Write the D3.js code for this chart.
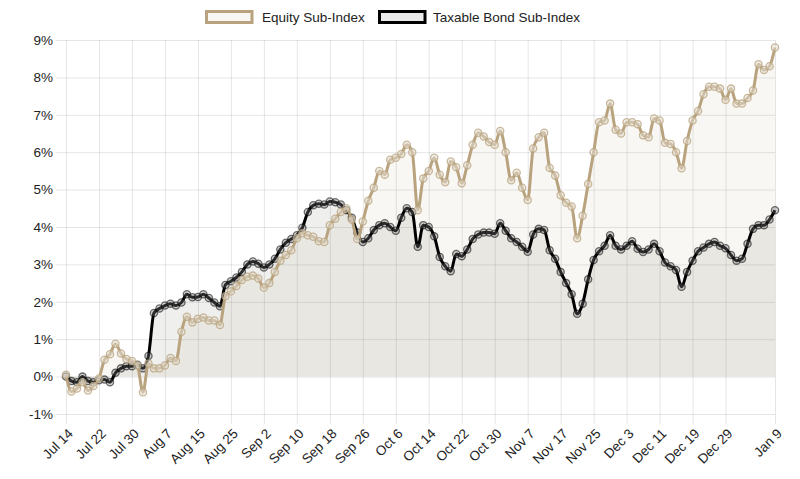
<!DOCTYPE html>
<html><head><meta charset="utf-8">
<script src="https://cdn.jsdelivr.net/npm/d3@7"></script>
<style>
body{margin:0;background:#fff}
svg{display:block}
text{font-family:"Liberation Sans",Arial,Helvetica,sans-serif;fill:#222}
</style>
</head><body>
<svg id="chart" width="800" height="479"></svg>
<script>
// ---- data ----
const dates = [
"Jul 14","Jul 15","Jul 16","Jul 17","Jul 18","Jul 21","Jul 22","Jul 23","Jul 24","Jul 25","Jul 28","Jul 29","Jul 30","Jul 31",
"Aug 1","Aug 4","Aug 5","Aug 6","Aug 7","Aug 8","Aug 11","Aug 12","Aug 13","Aug 14","Aug 15","Aug 18","Aug 19","Aug 20","Aug 21","Aug 22","Aug 25","Aug 26","Aug 27","Aug 28","Aug 29",
"Sep 1","Sep 2","Sep 3","Sep 4","Sep 5","Sep 8","Sep 9","Sep 10","Sep 11","Sep 12","Sep 15","Sep 16","Sep 17","Sep 18","Sep 19","Sep 22","Sep 23","Sep 24","Sep 25","Sep 26","Sep 29","Sep 30",
"Oct 1","Oct 2","Oct 3","Oct 6","Oct 7","Oct 8","Oct 9","Oct 10","Oct 13","Oct 14","Oct 15","Oct 16","Oct 17","Oct 20","Oct 21","Oct 22","Oct 23","Oct 24","Oct 27","Oct 28","Oct 29","Oct 30","Oct 31",
"Nov 3","Nov 4","Nov 5","Nov 6","Nov 7","Nov 10","Nov 11","Nov 12","Nov 13","Nov 14","Nov 17","Nov 18","Nov 19","Nov 20","Nov 21","Nov 24","Nov 25","Nov 26","Nov 27","Nov 28",
"Dec 1","Dec 2","Dec 3","Dec 4","Dec 5","Dec 8","Dec 9","Dec 10","Dec 11","Dec 12","Dec 15","Dec 16","Dec 17","Dec 18","Dec 19","Dec 22","Dec 23","Dec 24","Dec 25","Dec 26","Dec 29","Dec 30","Dec 31",
"Jan 1","Jan 2","Jan 5","Jan 6","Jan 7","Jan 8","Jan 9"
];
const equity = [
0.05,-0.4,-0.32,-0.15,-0.37,-0.25,-0.05,0.45,0.6,0.88,0.62,0.47,0.42,0.3,
-0.42,0.35,0.22,0.22,0.3,0.5,0.42,1.2,1.6,1.45,1.55,1.58,1.5,1.5,1.38,2.15,2.28,2.42,2.58,2.67,2.7,
2.62,2.38,2.5,2.8,3.1,3.25,3.38,3.7,3.83,3.78,3.74,3.62,3.6,4.05,4.22,4.4,4.5,4.2,3.68,4.15,4.7,5.05,
5.5,5.4,5.8,5.85,5.95,6.2,6.0,4.45,5.3,5.5,5.85,5.4,5.2,5.75,5.6,5.17,5.65,6.2,6.52,6.42,6.27,6.2,6.57,
6.0,5.25,5.45,5.05,4.72,6.1,6.4,6.52,5.58,5.38,4.85,4.65,4.55,3.7,4.3,5.15,6.0,6.8,6.85,7.3,
6.6,6.5,6.8,6.8,6.75,6.45,6.4,6.9,6.85,6.25,6.22,6.0,5.57,6.3,6.85,7.1,7.55,7.75,7.75,7.7,7.4,7.7,7.3,
7.3,7.45,7.65,8.35,8.2,8.3,8.8
];
const bond = [
0.0,-0.12,-0.15,0.0,-0.12,-0.15,-0.1,-0.08,-0.15,0.1,0.22,0.28,0.28,0.32,
0.22,0.55,1.7,1.82,1.9,1.95,1.9,1.98,2.2,2.12,2.13,2.2,2.1,1.98,1.88,2.45,2.55,2.65,2.8,3.0,3.08,
3.02,2.92,3.0,3.15,3.4,3.58,3.68,3.78,3.98,4.4,4.58,4.62,4.6,4.68,4.66,4.6,4.45,4.25,3.85,3.6,3.7,3.92,
4.05,4.1,4.0,3.9,4.25,4.5,4.4,3.47,4.05,4.0,3.75,3.2,2.95,2.82,3.28,3.22,3.4,3.68,3.8,3.85,3.85,3.82,4.1,
3.9,3.7,3.6,3.47,3.34,3.8,3.95,3.92,3.38,3.15,2.8,2.5,2.2,1.68,1.95,2.6,3.12,3.35,3.5,3.78,
3.5,3.4,3.5,3.62,3.42,3.33,3.4,3.55,3.35,3.05,2.95,2.85,2.4,2.8,3.1,3.35,3.45,3.55,3.6,3.5,3.43,3.25,3.1,
3.15,3.55,3.95,4.05,4.05,4.2,4.45
];
const yTicks = [-1,0,1,2,3,4,5,6,7,8,9];
const seriesNames = ["Equity Sub-Index","Taxable Bond Sub-Index"];

// ---- layout ----
const L = 66, R = 775, T = 40, B = 414;
const svg = d3.select("#chart");
const x = d3.scalePoint().domain(dates).range([L, R]).padding(0);
const y = d3.scaleLinear().domain([-1, 9]).range([B, T]);
const last = dates.length - 1;
const xTickVals = dates.filter((d, i) => (i % 6 === 0 && last - i >= 6) || i === last);

const grid = "rgba(0,0,0,0.1)";
const font = '"Liberation Sans",Arial,sans-serif';

// horizontal grid + y labels
const gy = svg.append("g").attr("transform", `translate(${L},0)`)
  .call(d3.axisLeft(y).tickValues(yTicks).tickFormat(d => d + "%").tickSize(10).tickPadding(3).tickSizeOuter(0));
gy.select(".domain").remove();
gy.selectAll(".tick line").attr("x2", R - L).attr("x1", -10).attr("stroke", grid);
gy.selectAll(".tick text").attr("font-size", 13.5).attr("fill", "#222").attr("font-family", font);

// vertical grid + x labels
const gx = svg.append("g").attr("transform", `translate(0,${B})`)
  .call(d3.axisBottom(x).tickValues(xTickVals).tickSize(10).tickSizeOuter(0));
gx.select(".domain").remove();
gx.selectAll(".tick line").attr("y1", T - B).attr("y2", 10).attr("stroke", grid);
gx.selectAll(".tick text")
  .attr("font-size", 13.5).attr("fill", "#222").attr("font-family", font)
  .attr("text-anchor", "end")
  .attr("dy", "0.35em").attr("y", 0)
  .attr("transform", "translate(4,17) rotate(-45)");

// ---- series ----
const curve = d3.curveMonotoneX;
const area = (vals) => d3.area().curve(curve).x((d, i) => x(dates[i])).y0(y(0)).y1(d => y(d))(vals);
const line = d3.line().curve(curve).x((d, i) => x(dates[i])).y(d => y(d));

const tan = "#b8a37e";
svg.append("path").attr("d", area(equity)).attr("fill", "rgba(184,163,126,0.09)");
svg.append("path").attr("d", area(bond)).attr("fill", "rgba(40,35,25,0.075)");

function drawSeries(vals, color, ptStroke, ptFill) {
  svg.append("path").attr("d", line(vals)).attr("fill", "none")
    .attr("stroke", color).attr("stroke-width", 3).attr("stroke-linejoin", "round");
  svg.append("g").selectAll("circle").data(vals).join("circle")
    .attr("cx", (d, i) => x(dates[i])).attr("cy", d => y(d)).attr("r", 3.6)
    .attr("fill", ptFill).attr("stroke", ptStroke).attr("stroke-width", 1.3);
}
drawSeries(bond, "#000", "rgba(0,0,0,0.55)", "rgba(120,120,120,0.35)");
drawSeries(equity, tan, "rgba(184,163,126,0.75)", "rgba(230,224,212,0.5)");

// ---- legend ----
const leg = [
  {name: seriesNames[0], bx: 206.5, tx: 262, stroke: tan, fill: "#f8f7f3"},
  {name: seriesNames[1], bx: 379.5, tx: 433, stroke: "#000", fill: "#ebebeb"}
];
leg.forEach(l => {
  svg.append("rect").attr("x", l.bx).attr("y", 11.5).attr("width", 45.5).attr("height", 11)
    .attr("fill", l.fill).attr("stroke", l.stroke).attr("stroke-width", 3);
  svg.append("text").attr("x", l.tx).attr("y", 22).attr("font-size", 13.5).attr("fill", "#222")
    .attr("font-family", font).text(l.name);
});
</script>
</body></html>
